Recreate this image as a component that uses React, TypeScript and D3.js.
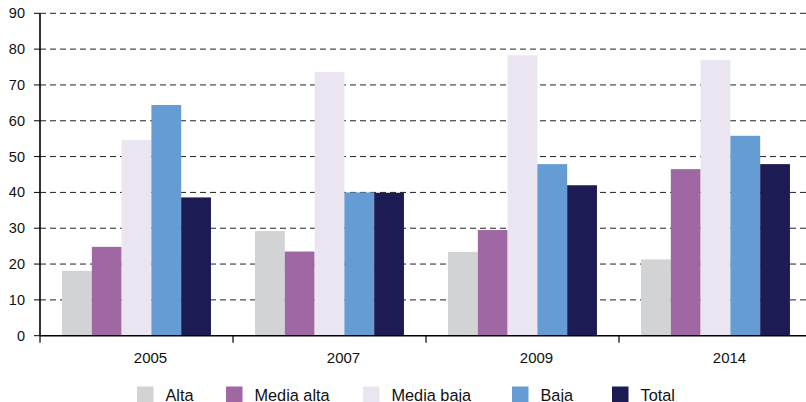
import React from "react";
import * as d3 from "d3";

const categories = ["2005", "2007", "2009", "2014"];
const seriesNames = ["Alta", "Media alta", "Media baja", "Baja", "Total"];
const alta = [18.1, 29.2, 23.4, 21.3];
const mediaAlta = [24.8, 23.5, 29.5, 46.5];
const mediaBaja = [54.6, 73.6, 78.3, 77.0];
const baja = [64.4, 40.0, 47.9, 55.8];
const total = [38.6, 39.9, 42.0, 47.9];
const seriesValues = [alta, mediaAlta, mediaBaja, baja, total];
const colors = ["#d2d3d5", "#a068a3", "#ebe5f2", "#659cd4", "#1d1b54"];
const yTicks = [0, 10, 20, 30, 40, 50, 60, 70, 80, 90];
const legendX = [137, 226, 363, 512, 612];

const W = 806;
const H = 402;
const left = 40;
const zeroY = 335.7;
const topY = 13.3;

export default function App() {
  const x0 = d3.scaleBand<string>().domain(categories).range([left, left + 193 * 4]).padding(0);
  const x1 = d3.scaleBand<string>().domain(seriesNames).range([0, x0.bandwidth()]).paddingInner(0).paddingOuter(0.74);
  const y = d3.scaleLinear().domain([0, 90]).range([zeroY, topY]);
  const font = "'Liberation Sans', Arial, sans-serif";

  return (
    <svg width={W} height={H} style={{ position: "absolute", left: 0, top: 0, display: "block" }} fontFamily={font}>
      <rect x={0} y={0} width={W} height={H} fill="#ffffff" />
      {/* gridlines */}
      {yTicks.filter((t) => t > 0).map((t) => (
        <line key={"g" + t} x1={left} x2={W} y1={y(t)} y2={y(t)} stroke="#222" strokeWidth={1} strokeDasharray="6,4" />
      ))}
      {/* bars */}
      {categories.map((c, ci) => (
        <g key={c} transform={`translate(${x0(c)},0)`}>
          {seriesNames.map((s, si) => {
            const v = seriesValues[si][ci];
            return (
              <rect
                key={s}
                x={x1(s)}
                y={y(v)}
                width={x1.bandwidth()}
                height={zeroY - y(v)}
                fill={colors[si]}
              />
            );
          })}
        </g>
      ))}
      {/* y axis */}
      <line x1={left} x2={left} y1={topY} y2={zeroY} stroke="#000" strokeWidth={1.6} />
      {yTicks.map((t) => (
        <g key={"y" + t}>
          <line x1={left - 6} x2={left} y1={y(t)} y2={y(t)} stroke="#000" strokeWidth={1} />
          <text x={25} y={y(t)} dy="0.35em" textAnchor="end" fontSize={14.5} fill="#111">
            {t}
          </text>
        </g>
      ))}
      {/* x axis */}
      <line x1={left} x2={W} y1={zeroY} y2={zeroY} stroke="#000" strokeWidth={1.6} />
      {categories.map((c) => (
        <line key={"xt" + c} x1={x0(c)!} x2={x0(c)!} y1={zeroY} y2={zeroY + 7} stroke="#000" strokeWidth={1.2} />
      ))}
      {categories.map((c) => (
        <text key={"xl" + c} x={x0(c)! + x0.bandwidth() / 2 + 14} y={363} textAnchor="middle" fontSize={15} fill="#111">
          {c}
        </text>
      ))}
      {/* legend */}
      {seriesNames.map((s, i) => (
        <g key={"l" + s}>
          <rect x={legendX[i]} y={386.5} width={16.5} height={16.5} fill={colors[i]} />
          <text x={legendX[i] + 28.5} y={400.5} fontSize={16.3} fill="#111">
            {s}
          </text>
        </g>
      ))}
    </svg>
  );
}
